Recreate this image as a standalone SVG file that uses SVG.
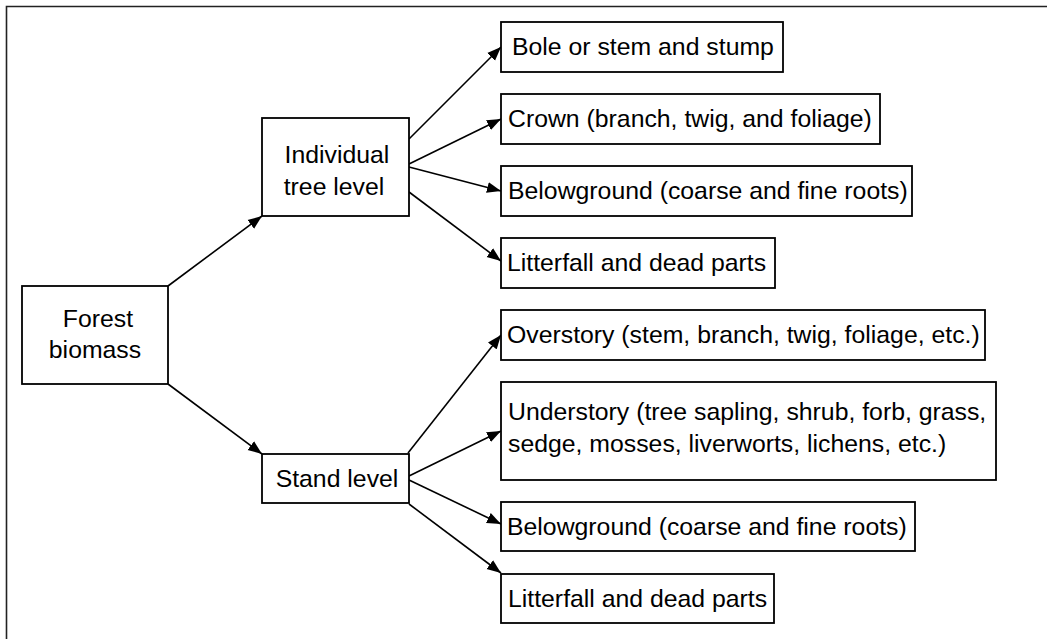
<svg xmlns="http://www.w3.org/2000/svg" width="1047" height="639" viewBox="0 0 1047 639">
<style>
.box{fill:#fff;stroke:#000;stroke-width:1.8}
.t{font-family:"Liberation Sans",Arial,sans-serif;font-size:24.8px;fill:#000}
.c{text-anchor:middle}
.edge{stroke:#000;stroke-width:1.6;fill:none;marker-end:url(#ah)}
</style>
<defs>
<marker id="ah" markerUnits="userSpaceOnUse" markerWidth="15" markerHeight="12" refX="14" refY="6" orient="auto">
<path d="M0,0.5 L14,6 L0,11.5 Z" fill="#000"/>
</marker>
</defs>
<rect width="1047" height="639" fill="#fff"/>
<path d="M6.5,639 V6.5 H1047" fill="none" stroke="#222" stroke-width="1.6"/>
<g id="connectors">
<line class="edge" x1="168" y1="286" x2="262" y2="216"/>
<line class="edge" x1="168" y1="384" x2="262" y2="454"/>
<line class="edge" x1="409" y1="139" x2="501" y2="47"/>
<line class="edge" x1="409" y1="164" x2="501" y2="119"/>
<line class="edge" x1="409" y1="167" x2="501" y2="191"/>
<line class="edge" x1="409" y1="192" x2="501" y2="261"/>
<line class="edge" x1="408" y1="453" x2="501" y2="335"/>
<line class="edge" x1="409" y1="476" x2="501" y2="431"/>
<line class="edge" x1="409" y1="480" x2="501" y2="524"/>
<line class="edge" x1="409" y1="504" x2="501" y2="573"/>
</g>
<g id="forest-biomass">
<rect class="box" x="22" y="286" width="146" height="98"/>
<text class="t c" x="98" y="327">Forest</text>
<text class="t c" x="95" y="358">biomass</text>
</g>
<g id="individual-tree-level">
<rect class="box" x="262" y="118" width="147" height="98"/>
<text class="t c" x="337" y="163">Individual</text>
<text class="t c" x="334" y="195">tree level</text>
</g>
<g id="stand-level">
<rect class="box" x="262" y="454" width="147" height="49"/>
<text class="t c" x="337" y="487">Stand level</text>
</g>
<g id="bole">
<rect class="box" x="501" y="22" width="282" height="50"/>
<text class="t" x="512" y="55">Bole or stem and stump</text>
</g>
<g id="crown">
<rect class="box" x="501" y="94" width="379" height="50"/>
<text class="t" x="508" y="127">Crown (branch, twig, and foliage)</text>
</g>
<g id="belowground-tree">
<rect class="box" x="501" y="166" width="411" height="50"/>
<text class="t" x="508" y="199">Belowground (coarse and fine roots)</text>
</g>
<g id="litterfall-tree">
<rect class="box" x="501" y="238" width="274" height="50"/>
<text class="t" x="507" y="271">Litterfall and dead parts</text>
</g>
<g id="overstory">
<rect class="box" x="501" y="310" width="484" height="50"/>
<text class="t" x="507" y="343">Overstory (stem, branch, twig, foliage, etc.)</text>
</g>
<g id="understory">
<rect class="box" x="501" y="382" width="495" height="98"/>
<text class="t" x="508" y="420">Understory (tree sapling, shrub, forb, grass,</text>
<text class="t" x="508" y="452">sedge, mosses, liverworts, lichens, etc.)</text>
</g>
<g id="belowground-stand">
<rect class="box" x="501" y="502" width="414" height="49"/>
<text class="t" x="507" y="535">Belowground (coarse and fine roots)</text>
</g>
<g id="litterfall-stand">
<rect class="box" x="501" y="574" width="273" height="49"/>
<text class="t" x="508" y="607">Litterfall and dead parts</text>
</g>
</svg>
